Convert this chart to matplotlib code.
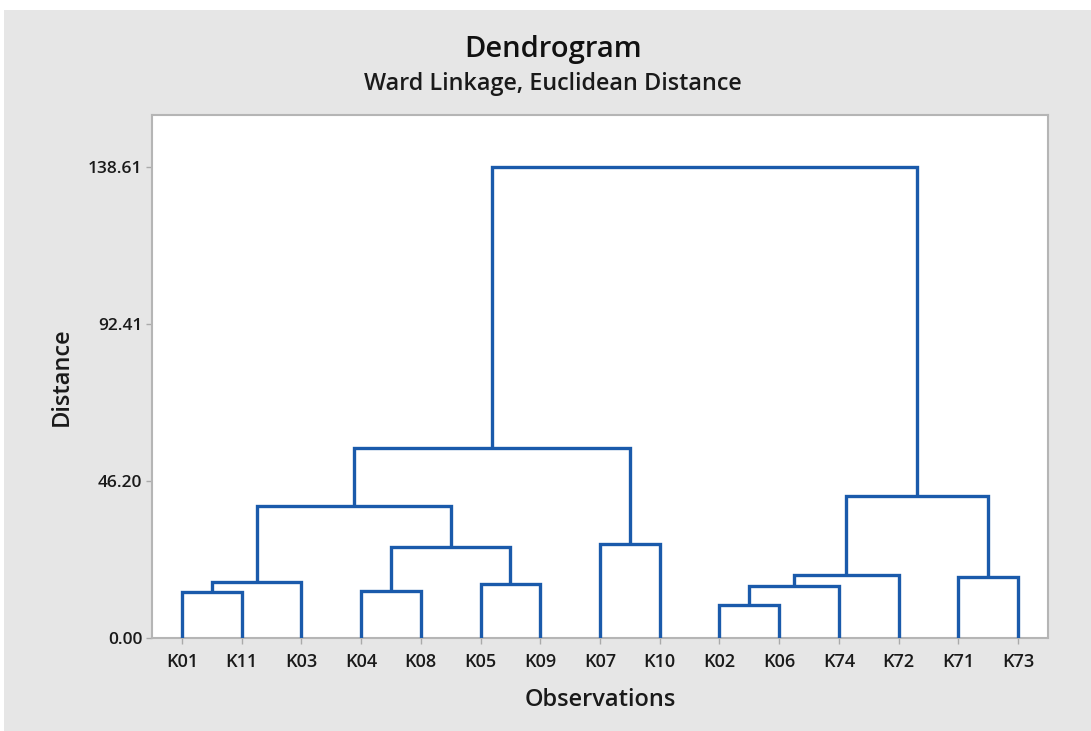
import matplotlib
matplotlib.use("Agg")
import matplotlib.pyplot as plt
from matplotlib.patches import Rectangle

# ---- data ----
leaves = ["K01", "K11", "K03", "K04", "K08", "K05", "K09", "K07", "K10",
          "K02", "K06", "K74", "K72", "K71", "K73"]
# merges: (left node, right node, height); new nodes named "N<index>"
merge_left = ["K01", "N0", "K04", "K05", "N2", "N1", "K07", "N5",
              "K02", "N8", "N9", "K71", "N10", "N7"]
merge_right = ["K11", "K03", "K08", "K09", "N3", "N4", "K10", "N6",
               "K06", "K74", "K72", "K73", "N11", "N12"]
merge_height = [13.6, 16.5, 13.9, 15.9, 26.8, 38.9, 27.7, 56.0,
                9.7, 15.3, 18.6, 18.0, 41.9, 138.61]
yticks = [0.00, 46.20, 92.41, 138.61]
ytick_labels = ["0.00", "46.20", "92.41", "138.61"]

LINE = "#1a5aab"
TXT = "#1a1a1a"
plt.rcParams['font.family'] = ['Open Sans', 'DejaVu Sans']

fig = plt.figure(figsize=(10.91, 7.31), dpi=100, facecolor="white")
fig.patches.append(Rectangle((4 / 1091, 0), 1 - 4 / 1091, 1 - 10 / 731,
                             transform=fig.transFigure, facecolor="#e6e6e6",
                             edgecolor="none", zorder=-10))
ax = fig.add_axes([152 / 1091, 1 - 638 / 731, (1048 - 152) / 1091, (638 - 115) / 731])
ax.set_facecolor("white")

pos = {name: 5 + 10 * i for i, name in enumerate(leaves)}
hgt = {name: 0.0 for name in leaves}
for i, (l, r, h) in enumerate(zip(merge_left, merge_right, merge_height)):
    xl, xr = pos[l], pos[r]
    ax.plot([xl, xl, xr, xr], [hgt[l], h, h, hgt[r]], color=LINE, lw=2.4,
            solid_joinstyle="miter", solid_capstyle="butt", zorder=3)
    pos["N%d" % i] = (xl + xr) / 2
    hgt["N%d" % i] = h

ax.set_xlim(0, 10 * len(leaves))
ax.set_ylim(0, 153.9)
ax.set_xticks([5 + 10 * i for i in range(len(leaves))])
ax.set_xticklabels(leaves, fontsize=13, fontweight="semibold", color=TXT)
ax.set_yticks(yticks)
ax.set_yticklabels(ytick_labels, fontsize=12.5, fontweight="semibold", color=TXT)
ax.tick_params(axis="both", color="#aaaaaa", length=4, width=1)
ax.tick_params(axis="x", pad=7)
ax.tick_params(axis="y", pad=3)
for s in ax.spines.values():
    s.set_color("#b5b5b5")
    s.set_linewidth(1.5)

ax.set_xlabel("Observations", fontsize=17, fontweight="semibold", color=TXT, labelpad=12)
ax.set_ylabel("Distance", fontsize=17, fontweight="semibold", color=TXT, labelpad=10)

fig.text(553 / 1091, 1 - 49 / 731, "Dendrogram", ha="center", va="center",
         fontsize=21, fontweight="semibold", color="#111111")
fig.text(553 / 1091, 1 - 84 / 731, "Ward Linkage, Euclidean Distance", ha="center", va="center",
         fontsize=16.8, fontweight="semibold", color="#1a1a1a")

fig.savefig("out.png", dpi=100, facecolor="white")
